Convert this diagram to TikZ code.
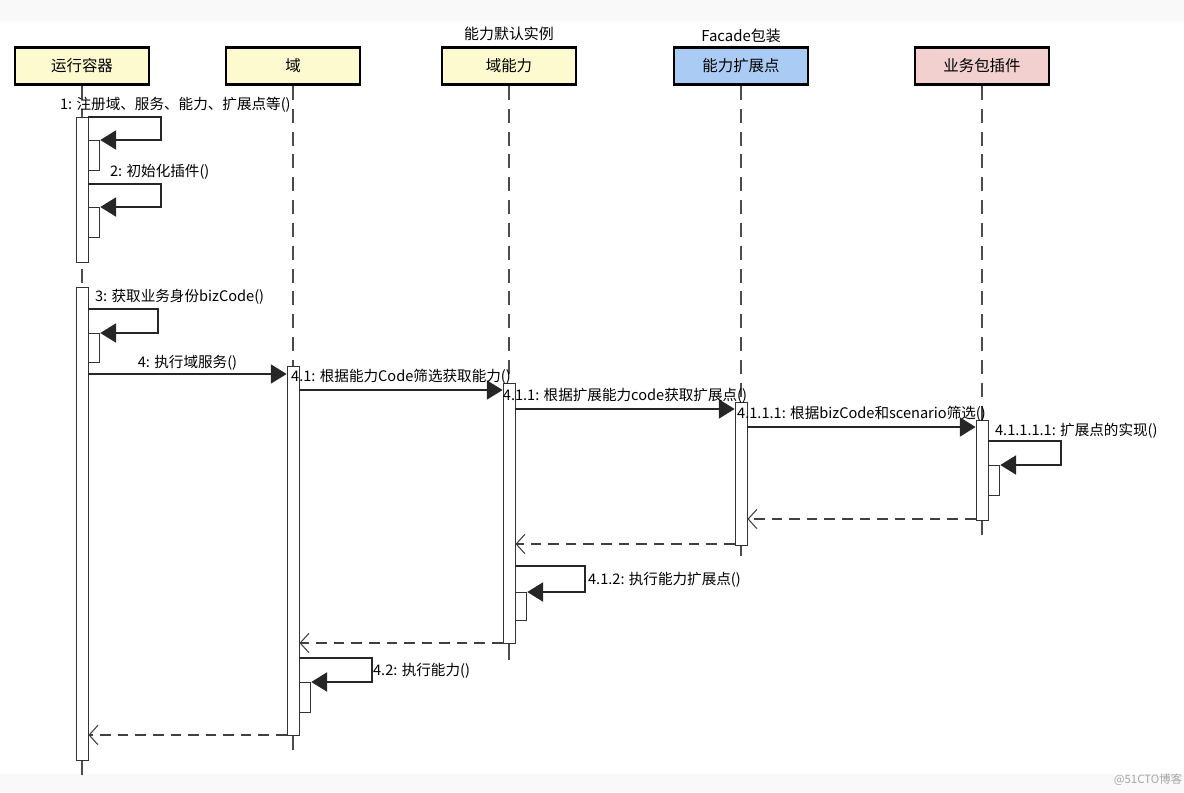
\documentclass[tikz,border=0pt]{standalone}
\usepackage{fontspec}
\setmainfont{Noto Sans CJK SC}
\usetikzlibrary{arrows.meta,calc,positioning}
\definecolor{headyellow}{RGB}{252,250,206}
\definecolor{headblue}{RGB}{170,204,244}
\definecolor{headpink}{RGB}{242,208,208}
\tikzstyle{head}=[rectangle, draw=black, line width=1.5pt, minimum width=2.68cm, minimum height=0.74cm, inner sep=0pt, font=\fontsize{8.8}{10}\selectfont, anchor=center]
\tikzstyle{actbox}=[rectangle, draw=black!80, fill=white, line width=0.5pt, minimum width=0.24cm, inner sep=0pt]
\tikzstyle{subbox}=[rectangle, draw=black!80, fill=white, line width=0.5pt, minimum width=0.22cm, inner sep=0pt]
\tikzstyle{life}=[draw=black!70, line width=0.6pt, dash pattern=on 8pt off 5pt]
\tikzstyle{tail}=[draw=black!70, line width=0.6pt]
\tikzstyle{call}=[draw=black!85, line width=0.6pt, -{Triangle[length=9pt,width=11pt]}]
\tikzstyle{ret}=[draw=black!75, line width=0.6pt, dash pattern=on 6pt off 4pt, -{Straight Barb[length=5pt,width=11pt]}]
\tikzstyle{annot}=[font=\fontsize{8.3}{9}\selectfont, inner sep=1pt]
\newcommand{\actbar}[4]
{
  \pgfmathsetmacro{\barlen}{(#4-#3)*0.02}
  \node[actbox, minimum height=\barlen cm, anchor=north](#1) at (#2,#3){};
}
\newcommand{\subbar}[4]
{
  \pgfmathsetmacro{\barlen}{(#4-#3)*0.02}
  \node[subbox, minimum height=\barlen cm, anchor=north west](#1) at (#2.east |- 0,#3){};
}
\newcommand{\selfcall}[4]
{
  \draw[call] (#1.east |- 0,#3) -- (#4,#3) |- (#2.north east);
}

\begin{document}
\begin{tikzpicture}[x=0.02cm, y=-0.02cm]
	\useasboundingbox (0,0) rectangle (1184,792);
	\fill[gray!5] (0,0) rectangle (1184,22);
	\fill[gray!5] (0,774) rectangle (1184,792);

	% heads
	\node[head, fill=headyellow](cont) at (82,66){运行容器};
	\node[head, fill=headyellow](dom) at (293,66){域};
	\node[head, fill=headyellow](abil) at (509,66){域能力};
	\node[head, fill=headblue](ext) at (741,66){能力扩展点};
	\node[head, fill=headpink](plug) at (982,66){业务包插件};
	\node[annot, above=2pt of abil.north, font=\fontsize{8.5}{10}\selectfont](abilnote){能力默认实例};
	\node[annot, above=1pt of ext.north, font=\fontsize{8.5}{10}\selectfont](extnote){Facade包装};

	% lifelines
	\draw[life] (cont.south) -- (cont.south |- 0,760);
	\draw[life] (dom.south) -- (dom.south |- 0,735);
	\draw[life] (abil.south) -- (abil.south |- 0,643);
	\draw[life] (ext.south) -- (ext.south |- 0,545);
	\draw[life] (plug.south) -- (plug.south |- 0,520);

	% activations
	\actbar{contA}{82}{117}{262}
	\actbar{contB}{82}{287}{760}
	\actbar{domA}{293}{366}{735}
	\actbar{abilA}{509}{383}{643}
	\actbar{extA}{741}{402}{545}
	\actbar{plugA}{982}{420}{520}

	\draw[tail] (contB.south) -- (contB.south |- 0,775);
	\draw[tail] (domA.south) -- (domA.south |- 0,750);
	\draw[tail] (abilA.south) -- (abilA.south |- 0,660);
	\draw[tail] (extA.south) -- (extA.south |- 0,556);
	\draw[tail] (plugA.south) -- (plugA.south |- 0,535);

	% 1, 2, 3
	\subbar{c1}{contA}{140}{170}
	\selfcall{contA}{c1}{117}{161}
	\node[annot, anchor=west](l1) at (58,105){1: 注册域、服务、能力、扩展点等()};
	\subbar{c2}{contA}{207}{237}
	\selfcall{contA}{c2}{184}{161}
	\node[annot, anchor=west](l2) at (108,172){2: 初始化插件()};
	\subbar{c3}{contB}{333}{362}
	\selfcall{contB}{c3}{309}{158}
	\node[annot, anchor=west](l3) at (93,297){3: 获取业务身份bizCode()};

	% calls
	\draw[call] (contB.east |- 0,374) -- node[annot, midway, above=1pt]{4: 执行域服务()} (domA.west |- 0,374);
	\draw[call] (domA.east |- 0,390) -- node[annot, midway, above=2pt]{4.1: 根据能力Code筛选获取能力()} (abilA.west |- 0,390);
	\draw[call] (abilA.east |- 0,409) -- node[annot, midway, above=2pt]{4.1.1: 根据扩展能力code获取扩展点()} (extA.west |- 0,409);
	\draw[call] (extA.east |- 0,427) -- node[annot, midway, above=2pt]{4.1.1.1: 根据bizCode和scenario筛选()} (plugA.west |- 0,427);

	\subbar{p1}{plugA}{465}{495}
	\selfcall{plugA}{p1}{441}{1061}
	\node[annot, anchor=west](l5) at (993,431){4.1.1.1.1: 扩展点的实现()};

	% returns
	\draw[ret] (plugA.west |- 0,519) -- (extA.east |- 0,519);
	\draw[ret] (extA.west |- 0,544) -- (abilA.east |- 0,544);

	\subbar{a1}{abilA}{592}{620}
	\selfcall{abilA}{a1}{566}{585}
	\node[annot, anchor=west](l6) at (586,580){4.1.2: 执行能力扩展点()};

	\draw[ret] (abilA.west |- 0,643) -- (domA.east |- 0,643);

	\subbar{d1}{domA}{682}{712}
	\selfcall{domA}{d1}{658}{372}
	\node[annot, anchor=west](l7) at (371,671){4.2: 执行能力()};

	\draw[ret] (domA.west |- 0,735) -- (contB.east |- 0,735);

	\node[annot, text=black!35, font=\fontsize{6.5}{8}\selectfont](mark) at (1148,780){@51CTO博客};
\end{tikzpicture}
\end{document}
